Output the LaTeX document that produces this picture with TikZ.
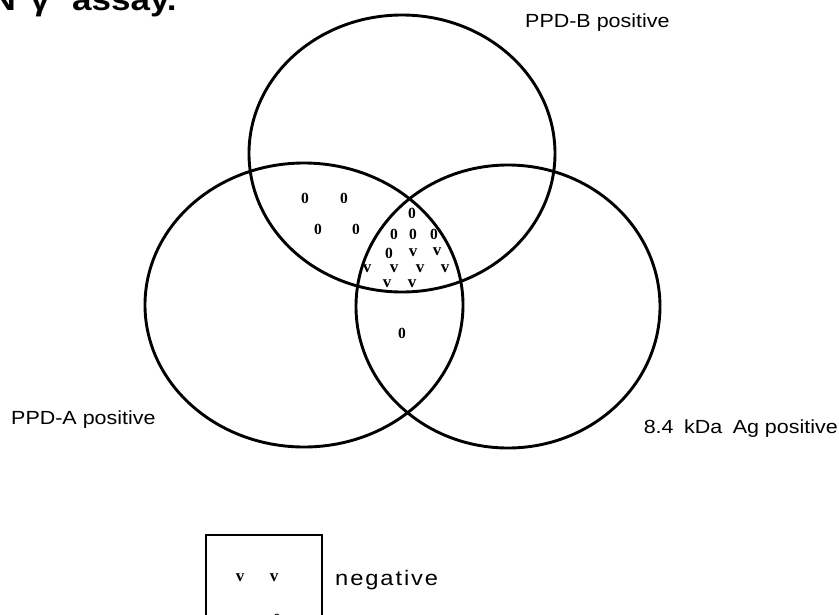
\documentclass[tikz,border=0pt]{standalone}
\usepackage{fontspec}
\setmainfont{Liberation Sans}
\newfontfamily\serifbf{Liberation Serif}
\newcommand\hstretch[1]{\scalebox{1.13}[1]{#1}}
\begin{document}
\begin{tikzpicture}[x=1pt,y=-1pt,
  ring/.style={line width=2.9pt},
  lab/.style={font=\fontsize{19}{22}\selectfont, inner sep=0pt},
  ttl/.style={font=\bfseries\fontsize{31}{34}\selectfont, inner sep=0pt},
  posmark/.style={font=\serifbf\bfseries\fontsize{15.5}{17}\selectfont, inner sep=0pt},
  negmark/.style={font=\serifbf\bfseries\fontsize{17}{19}\selectfont, inner sep=0pt},
  legbox/.style={line width=1.8pt}]
\useasboundingbox (0,0) rectangle (839,614);
% title (cut off at the top)
\node[ttl, anchor=base east] (t1) at (16,10) {\hstretch{IFN}};
\node[ttl, anchor=base] (t0) at (40,10) {\hstretch{γ}};
\node[ttl, anchor=base west] (t2) at (72,10) {\hstretch{assay.}};
% three sets
\draw[ring] (304,305) ellipse [x radius=159, y radius=142];
\draw[ring] (402,153.5) ellipse [x radius=153, y radius=138.5];
\draw[ring] (508,306.5) ellipse [x radius=152, y radius=141.5];
% labels
\node[lab, anchor=base west] (lB) at (525,27.3) {\hstretch{PPD-B positive}};
\node[lab, anchor=base west] (lA) at (11,424) {\hstretch{PPD-A positive}};
\node[lab, anchor=base east] (lC) at (838,433.5) {\hstretch{8.4\hspace{4pt} kDa\hspace{4pt} Ag positive}};
% positive marks
\foreach \p [count=\i] in {(305,198),(344,198),(318,229),(356,229),(412,213),(394,234),(413,234),(434,234),(389,253),(402,333)}
  \node[posmark] (p\i) at \p {0};
% negative marks
\foreach \p [count=\i] in {(413,253),(437,252),(367,269),(394,269),(420,269),(445,269),(387,284),(412,284)}
  \node[negmark] (n\i) at \p {v};
% legend
\draw[legbox] (206,535) rectangle (322,640);
\node[negmark] (ln1) at (240,578) {v};
\node[negmark] (ln2) at (274,578) {v};
\node[posmark] (lp1) at (277,619) {0};
\node[font=\fontsize{21}{24}\selectfont\addfontfeature{LetterSpace=8}, inner sep=0pt, anchor=base west] (lneg) at (335,585) {\hstretch{negative}};
\end{tikzpicture}
\end{document}
